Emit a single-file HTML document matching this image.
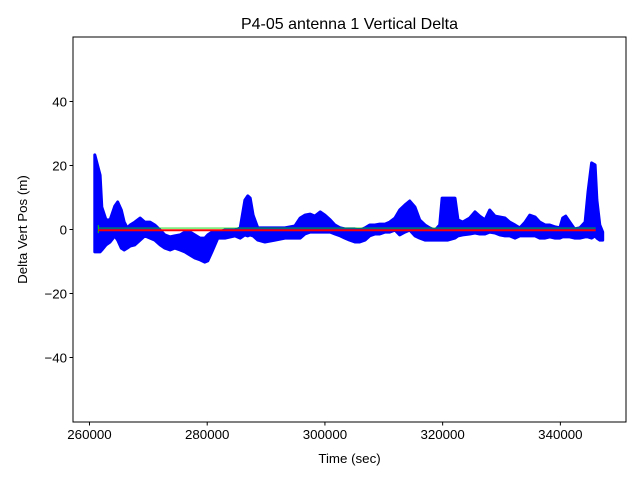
<!DOCTYPE html>
<html><head><meta charset="utf-8"><style>
body{margin:0;background:#fff}
svg{display:block;font-family:"Liberation Sans","DejaVu Sans",sans-serif}
</style></head><body>
<svg id="chart" width="640" height="480" viewBox="0 0 640 480">
<rect width="640" height="480" fill="#fff"/>
<text x="349.5" y="29" text-anchor="middle" font-size="16">P4-05 antenna 1 Vertical Delta</text>
<g id="plot"></g>
<g id="axes"></g>
<text x="349.5" y="463" text-anchor="middle" font-size="13.3">Time (sec)</text>
<text transform="translate(27,229.5) rotate(-90)" text-anchor="middle" font-size="13.3">Delta Vert Pos (m)</text>
</svg>
<script>
const times=[260900,261800,262100,262800,263500,264300,264800,265400,265900,266400,266900,267700,268600,269400,270300,271100,272000,272800,273700,274500,275400,276200,277100,277900,278800,279600,280100,280800,281800,283000,284700,285600,286400,286900,287300,287800,288600,289800,291500,293200,294900,295800,296600,297500,298300,299200,300000,300900,301700,302600,303400,304200,305100,305900,306800,307600,308500,309300,310200,311000,311900,312700,313600,314400,315300,316100,317000,317800,318700,319500,319900,320900,322100,322600,323400,324600,325500,326300,327200,328000,328900,329700,330600,331400,332300,333100,334000,334800,335700,336500,337400,338200,339100,339900,340400,340900,341600,342400,343300,344200,344700,345300,345900,346200,346700,347200];
const upper=[23.3,17.0,7.0,3.0,3.0,7.3,8.6,6.1,2.3,0.5,1.4,2.3,3.6,2.3,2.3,1.4,-0.2,-1.7,-2.3,-2.0,-1.7,-0.8,-0.8,-1.7,-2.7,-2.7,-1.7,-0.8,-0.8,-0.2,-0.2,0.5,9.2,10.5,9.8,4.5,0.5,0.5,0.5,0.5,1.1,3.6,4.5,4.8,4.2,5.5,4.5,3.0,1.4,0.5,0.2,0.2,0.2,-0.2,0.5,1.4,1.4,1.7,1.7,2.3,3.6,6.1,7.7,8.9,7.0,3.0,1.4,0.5,-0.2,1.4,9.8,9.8,9.8,3.0,2.3,3.6,5.5,4.2,3.0,6.1,4.2,3.9,3.6,2.3,1.4,0.5,2.3,4.5,3.9,2.3,1.4,1.4,0.8,0.5,3.6,4.2,2.3,0.2,0.5,2.3,11.7,20.8,20.2,9.2,1.4,-0.8];
const lower=[-7.0,-7.0,-6.4,-4.8,-3.9,-2.0,-3.3,-5.8,-6.4,-5.8,-5.2,-4.8,-3.3,-2.0,-2.7,-3.3,-4.8,-5.8,-6.4,-5.8,-6.4,-7.0,-8.0,-8.9,-9.5,-10.2,-9.8,-7.0,-2.7,-2.7,-2.0,-2.7,-1.7,-2.0,-1.7,-2.0,-3.3,-3.9,-3.3,-2.7,-2.7,-2.7,-1.4,-0.8,-0.8,-0.8,-0.8,-0.8,-1.4,-2.0,-2.7,-3.3,-3.9,-3.9,-3.3,-2.0,-1.4,-1.4,-0.8,-0.8,-0.2,-1.7,-0.8,-0.2,-2.0,-2.7,-3.3,-3.3,-3.3,-3.3,-3.3,-3.3,-2.7,-2.0,-1.7,-1.4,-1.1,-1.4,-1.4,-0.8,-1.1,-1.7,-2.0,-2.0,-2.7,-2.0,-2.0,-2.0,-2.0,-2.7,-2.7,-2.3,-2.7,-2.7,-2.3,-2.3,-2.3,-2.7,-2.7,-2.3,-2.3,-2.7,-2.0,-2.7,-3.3,-3.3];
const refLine=[0];
const meanLine=[0.45];
const lineStart=[261500], lineEnd=[346000];
const xTicks=[260000,280000,300000,320000,340000];
const yTicks=[-40,-20,0,20,40];
const L=73,R=626,T=37,B=422;
const xMin=257200,xMax=351150,yMin=-60.15,yMax=60.15;
const X=t=>L+(t-xMin)/(xMax-xMin)*(R-L);
const Y=v=>B-(v-yMin)/(yMax-yMin)*(B-T);
const NS="http://www.w3.org/2000/svg";
const plot=document.getElementById('plot'),axes=document.getElementById('axes');
function mk(tag,attrs,parent){const e=document.createElementNS(NS,tag);for(const k in attrs)e.setAttribute(k,attrs[k]);parent.appendChild(e);return e;}
let pts=[];
for(let i=0;i<times.length;i++)pts.push(X(times[i]).toFixed(1)+','+Y(upper[i]).toFixed(1));
for(let i=times.length-1;i>=0;i--)pts.push(X(times[i]).toFixed(1)+','+Y(lower[i]).toFixed(1));
const band=mk('polygon',{points:pts.join(' '),fill:'#0000ff',stroke:'#0000ff','stroke-width':3,'stroke-linejoin':'round'},plot);


const g=mk('line',{x1:X(lineStart[0]),x2:X(lineEnd[0]),y1:Y(meanLine[0]),y2:Y(meanLine[0]),stroke:'#00dd00','stroke-width':0.8},plot);


const gt=mk('line',{x1:X(lineStart[0]),x2:X(lineStart[0]),y1:Y(meanLine[0])-3,y2:Y(meanLine[0])+5,stroke:'#00dd00','stroke-width':1},plot);


const r=mk('line',{x1:X(lineStart[0]),x2:X(lineEnd[0]),y1:Y(refLine[0])+0.8,y2:Y(refLine[0])+0.8,stroke:'#ff0000','stroke-width':2},plot);


const frame=mk('rect',{x:L,y:T,width:R-L,height:B-T,fill:'none',stroke:'#000','stroke-width':1},axes);


xTicks.forEach(t=>{const x=X(t);
 const tk=mk('line',{x1:x,x2:x,y1:B,y2:B+3.5,stroke:'#000'},axes);
 
 
 const tx=mk('text',{x:x,y:B+17,'text-anchor':'middle','font-size':13.3},axes);tx.textContent=t;
 
 
});
yTicks.forEach(v=>{const y=Y(v);
 const tk=mk('line',{x1:L-3.5,x2:L,y1:y,y2:y,stroke:'#000'},axes);
 
 
 const tx=mk('text',{x:L-6,y:y+4.8,'text-anchor':'end','font-size':13.3},axes);tx.textContent=v<0?'\u2212'+Math.abs(v):v;
 
 
});
</script>
</body></html>
